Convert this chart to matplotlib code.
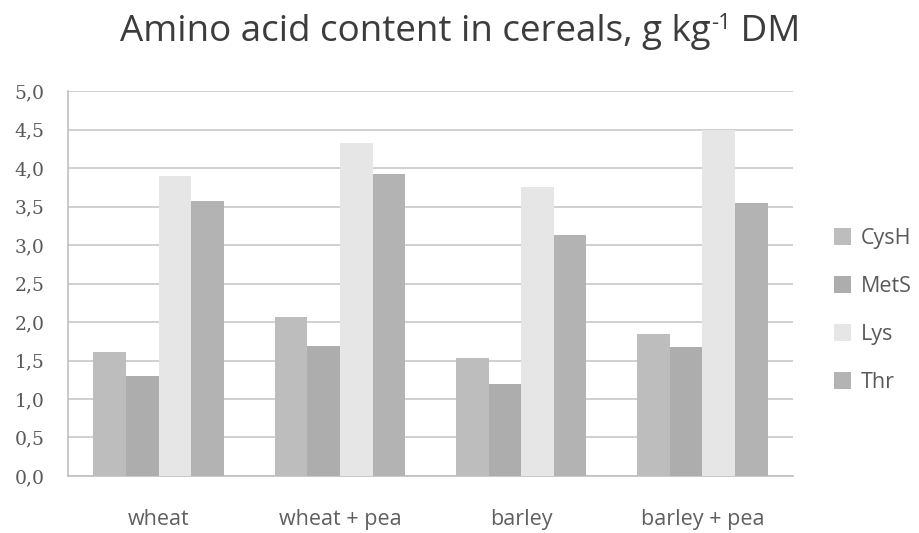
import matplotlib
matplotlib.use('Agg')
import matplotlib.pyplot as plt
import numpy as np

categories = ['wheat', 'wheat + pea', 'barley', 'barley + pea']
series = ['CysH', 'MetS', 'Lys', 'Thr']
cysh = [1.61, 2.07, 1.53, 1.84]
mets = [1.30, 1.69, 1.19, 1.67]
lys = [3.90, 4.32, 3.76, 4.50]
thr = [3.57, 3.92, 3.13, 3.55]
yticks = np.arange(0, 5.01, 0.5)

colors = ['#bdbdbd', '#adadad', '#e6e6e6', '#b3b3b3']

fig = plt.figure(figsize=(9.2, 5.33), dpi=100)
ax = fig.add_axes([0.074, 0.107, 0.788, 0.722])

x = np.arange(len(categories))
w = 0.18
for i, (vals, name) in enumerate(zip([cysh, mets, lys, thr], series)):
    ax.bar(x + (i - 1.5) * w, vals, w, color=colors[i], label=name, zorder=3)

ax.set_ylim(0, 5)
ax.set_xlim(-0.5, len(categories) - 0.5)
ax.set_yticks(yticks)
ax.set_yticklabels([('%.1f' % v).replace('.', ',') for v in yticks],
                   family='DejaVu Serif', fontsize=13.5, color='#595959')
ax.set_xticks(x)
ax.set_xticklabels(categories, family='Open Sans', fontsize=15.5, color='#606060')
ax.tick_params(length=0)
ax.tick_params(axis='y', pad=17)
ax.tick_params(axis='x', pad=24)
ax.grid(axis='y', color='#c8c8c8', linewidth=1.2, zorder=0)
for s in ['top', 'right']:
    ax.spines[s].set_visible(False)
for s in ['left', 'bottom']:
    ax.spines[s].set_color('#c0c0c0')
    ax.spines[s].set_linewidth(1.2)

# title in pieces so the superscript uses a plain hyphen
title_kw = dict(family='Open Sans', color='#3c3c3c')
fig.canvas.draw()
r = fig.canvas.get_renderer()
parts = [('Amino acid content in cereals, g kg', 26.5, 0), ('-1', 16, 12), (' DM', 26.5, 0)]
widths = []
for txt, size, _ in parts:
    t = fig.text(0, 0, txt, fontsize=size, **title_kw)
    widths.append(t.get_window_extent(r).width)
    t.remove()
x0 = (fig.bbox.width - sum(widths)) / 2
base_y = 533 - 41
for (txt, size, dy), wd in zip(parts, widths):
    fig.text(x0, base_y + dy, txt, fontsize=size, va='baseline', ha='left',
             transform=None, **title_kw)
    x0 += wd

leg = ax.legend(loc='center left', bbox_to_anchor=(1.03, 0.43), frameon=False,
                handlelength=0.8, handleheight=0.8, handletextpad=0.45,
                labelspacing=1.25, prop={'family': 'Open Sans', 'size': 15.5})
for t in leg.get_texts():
    t.set_color('#595959')

fig.savefig('out.png', dpi=100)
